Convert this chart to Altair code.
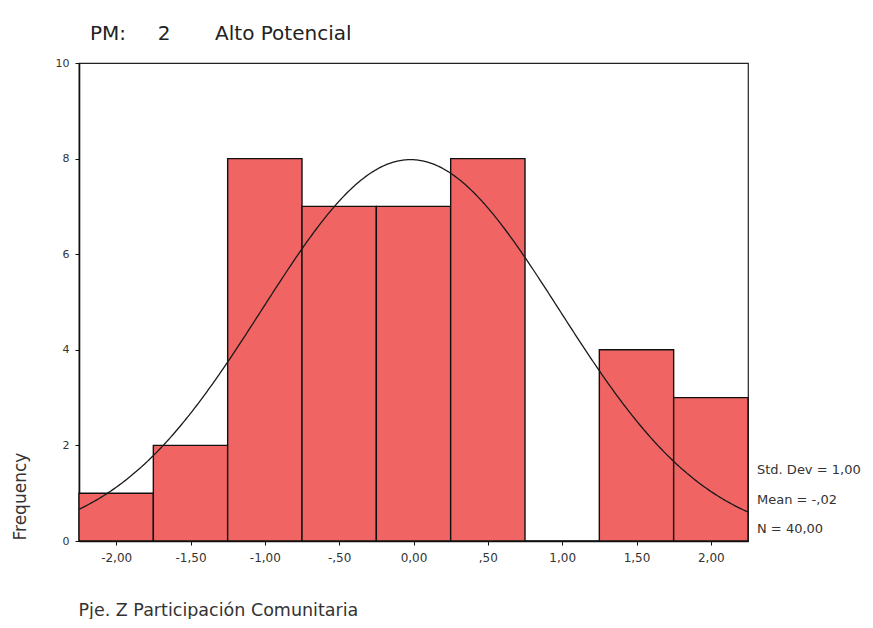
import altair as alt
import pandas as pd

# ---- data ----
bin_centers = [-2.0, -1.5, -1.0, -0.5, 0.0, 0.5, 1.0, 1.5, 2.0]
frequencies = [1, 2, 8, 7, 7, 8, 0, 4, 3]
bin_width = 0.5
x_tick_labels = ["-2,00", "-1,50", "-1,00", "-,50", "0,00", ",50", "1,00", "1,50", "2,00"]
y_ticks = [0, 2, 4, 6, 8, 10]
stat_mean = -0.02
stat_sd = 1.00
stat_n = 40
stats_text = ["Std. Dev = 1,00", "Mean = -,02", "N = 40,00"]
title_text = "PM:" + "\u00a0" * 5 + "2" + "\u00a0" * 7 + "Alto Potencial"
x_title = "Pje. Z Participación Comunitaria"
y_title = "Frequency"

bars = pd.DataFrame({
    "center": bin_centers,
    "count": frequencies,
})
bars["start"] = bars["center"] - bin_width / 2
bars["end"] = bars["center"] + bin_width / 2

x_lo = bin_centers[0] - bin_width / 2
x_hi = bin_centers[-1] + bin_width / 2

label_expr = "[" + ",".join(f"'{l}'" for l in x_tick_labels) + "][round((datum.value - (%s)) / %s)]" % (bin_centers[0], bin_width)

x_scale = alt.Scale(domain=[x_lo, x_hi], nice=False, zero=False)
y_scale = alt.Scale(domain=[0, 10], nice=False)

bar_layer = alt.Chart(bars).mark_rect(
    fill="#f06464", stroke="#111111", strokeWidth=1.4
).encode(
    x=alt.X("start:Q", scale=x_scale,
            axis=alt.Axis(values=bin_centers, labelExpr=label_expr, title=x_title,
                          titleX=-1, titleY=74, titleAlign="left", titleBaseline="alphabetic",
                          titleFontSize=17.5, titleFontWeight="normal", titleColor="#333333",
                          tickSize=4, labelPadding=7, labelFontSize=12, labelColor="#333333",
                          grid=False, domainColor="#111111", domainWidth=1.6, tickColor="#111111")),
    x2="end:Q",
    y=alt.Y("count:Q", scale=y_scale,
            axis=alt.Axis(values=y_ticks, title=y_title, titleAngle=270, titleX=-59, titleY=477,
                          titleAlign="left", titleBaseline="middle", titleFontSize=17,
                          titleFontWeight="normal", titleColor="#333333",
                          tickSize=4, labelPadding=6, labelFontSize=11, labelColor="#333333",
                          grid=False, domainColor="#111111", domainWidth=1.6, tickColor="#111111")),
)

curve_layer = alt.Chart(alt.sequence(x_lo, x_hi + 0.001, 0.01, as_="x")).transform_calculate(
    y=f"{stat_n} * {bin_width} * densityNormal(datum.x, {stat_mean}, {stat_sd})"
).mark_line(color="#1a1a1a", strokeWidth=1.3).encode(
    x=alt.X("x:Q", scale=x_scale),
    y=alt.Y("y:Q", scale=y_scale),
)

stats_layer = alt.Chart(pd.DataFrame({"t": ["\n".join(stats_text)]})).mark_text(
    align="left", baseline="alphabetic", fontSize=13, lineHeight=29.5, color="#333333",
    lineBreak="\n"
).encode(
    x=alt.value(678), y=alt.value(411), text="t:N"
)

chart = alt.layer(bar_layer, curve_layer, stats_layer).properties(
    width=669, height=478,
    autosize=alt.AutoSizeParams(type="none"),
    padding={"left": 71, "top": 55, "right": 117, "bottom": 78},
    title=alt.TitleParams(title_text, anchor="start", frame="group", dx=11, dy=31, offset=28,
                          fontSize=20, fontWeight="normal", color="#222222",
                          baseline="alphabetic"),
).configure(
    font="DejaVu Sans"
).configure_view(
    stroke="#222222", strokeWidth=1.2
)

chart.save("out.html", embed_options={"renderer": "svg", "actions": False})
